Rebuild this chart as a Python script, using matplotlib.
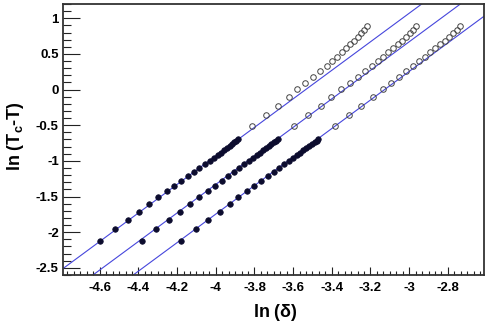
import matplotlib
matplotlib.use('Agg')
import matplotlib.pyplot as plt
from matplotlib.ticker import MultipleLocator, FixedLocator
import numpy as np

plt.rcParams['font.family'] = ['Liberation Sans', 'DejaVu Sans']
plt.rcParams['mathtext.fontset'] = 'custom'
plt.rcParams['mathtext.rm'] = 'Liberation Sans:bold'
plt.rcParams['mathtext.it'] = 'Liberation Sans:bold'

# ln(Tc-T) values shared by the three data sets
y_filled = [-2.119, -1.959, -1.829, -1.712, -1.605, -1.511, -1.426, -1.352,
            -1.282, -1.212, -1.151, -1.095, -1.043, -0.997, -0.955, -0.917,
            -0.885, -0.851, -0.823, -0.795, -0.767, -0.739, -0.717, -0.693]
y_open = [-0.511, -0.356, -0.230, -0.108, 0.004, 0.097, 0.181, 0.261, 0.335,
          0.401, 0.461, 0.523, 0.579, 0.635, 0.686, 0.742, 0.790, 0.840, 0.885]

# ln(delta) of the filled (fitted) points
x_filled_1 = [-4.600, -4.519, -4.453, -4.396, -4.345, -4.298, -4.254, -4.215,
              -4.180, -4.146, -4.113, -4.086, -4.058, -4.030, -4.009, -3.990,
              -3.973, -3.958, -3.942, -3.928, -3.916, -3.904, -3.895, -3.886]
x_filled_2 = [-4.384, -4.311, -4.244, -4.185, -4.132, -4.085, -4.042, -4.004,
              -3.969, -3.937, -3.907, -3.880, -3.852, -3.828, -3.807, -3.788,
              -3.771, -3.755, -3.740, -3.726, -3.712, -3.701, -3.688, -3.679]
x_filled_3 = [-4.180, -4.104, -4.039, -3.980, -3.928, -3.883, -3.840, -3.800,
              -3.766, -3.731, -3.700, -3.673, -3.647, -3.622, -3.602, -3.581,
              -3.564, -3.547, -3.531, -3.516, -3.502, -3.488, -3.476, -3.469]

# ln(delta) of the open points
x_open_1 = [-3.814, -3.740, -3.676, -3.621, -3.578, -3.538, -3.498, -3.460,
            -3.426, -3.400, -3.374, -3.348, -3.326, -3.305, -3.284, -3.265,
            -3.248, -3.231, -3.218]
x_open_2 = [-3.598, -3.521, -3.456, -3.403, -3.353, -3.308, -3.267, -3.227,
            -3.192, -3.163, -3.135, -3.109, -3.083, -3.060, -3.037, -3.016,
            -2.998, -2.980, -2.966]
x_open_3 = [-3.382, -3.310, -3.248, -3.187, -3.137, -3.094, -3.055, -3.016,
            -2.980, -2.947, -2.918, -2.890, -2.864, -2.838, -2.816, -2.793,
            -2.773, -2.752, -2.735]

# linear fits y = slope*x + intercept
fit_slope = [2.0, 2.0, 2.0]
fit_intercept = [7.07, 6.67, 6.254]

x_ticks = [-4.6, -4.4, -4.2, -4.0, -3.8, -3.6, -3.4, -3.2, -3.0, -2.8]
x_ticklabels = ['-4.6', '-4.4', '-4.2', '-4', '-3.8', '-3.6', '-3.4', '-3.2', '-3', '-2.8']
y_ticks = [-2.5, -2.0, -1.5, -1.0, -0.5, 0.0, 0.5, 1.0]
y_ticklabels = ['-2.5', '-2', '-1.5', '-1', '-0.5', '0', '0.5', '1']

fig = plt.figure(figsize=(4.89, 3.24), dpi=100)
ax = fig.add_axes([0.1288, 0.1512, 0.8610, 0.8365])

xlim = (-4.79, -2.613)
ylim = (-2.6, 1.2)

xx = np.array(xlim)
for a, b in zip(fit_slope, fit_intercept):
    ax.plot(xx, a * xx + b, color='#4646dc', lw=0.8, zorder=2)

for xs in (x_filled_1, x_filled_2, x_filled_3):
    ax.plot(xs, y_filled, 'o', ms=4.0, mfc='#0c0c2e', mec='#0c0c2e', mew=0.5, zorder=3)
for xs in (x_open_1, x_open_2, x_open_3):
    ax.plot(xs, y_open, 'o', ms=4.0, mfc='none', mec='#444444', mew=0.7, zorder=3)

ax.set_xlim(*xlim)
ax.set_ylim(*ylim)

ax.xaxis.set_major_locator(FixedLocator(x_ticks))
ax.set_xticklabels(x_ticklabels)
ax.xaxis.set_minor_locator(MultipleLocator(0.2 / 6))
ax.yaxis.set_major_locator(FixedLocator(y_ticks))
ax.set_yticklabels(y_ticklabels)
ax.yaxis.set_minor_locator(MultipleLocator(0.1))

ax.tick_params(axis='both', which='both', direction='in', top=False, right=False,
               colors='#222222', labelcolor='black')
ax.tick_params(axis='x', which='major', length=6, width=0.8, pad=5, labelsize=9.5)
ax.tick_params(axis='x', which='minor', length=3, width=0.8)
ax.tick_params(axis='y', which='major', length=12, width=0.8, pad=3, labelsize=9.5)
ax.tick_params(axis='y', which='minor', length=6, width=0.8)
for lab in ax.get_xticklabels() + ax.get_yticklabels():
    lab.set_fontweight('bold')

for s in ax.spines.values():
    s.set_color('#333333')
    s.set_linewidth(1.3)

fig.text(0.5634, 0.037, r'ln ($\delta$)', ha='center', va='center',
         fontsize=13, fontweight='bold')
fig.text(0.031, 0.58, r'ln (T$_{\rm c}$-T)', ha='center', va='center',
         rotation=90, fontsize=13, fontweight='bold')

fig.savefig('out.png', dpi=100, facecolor='white')
